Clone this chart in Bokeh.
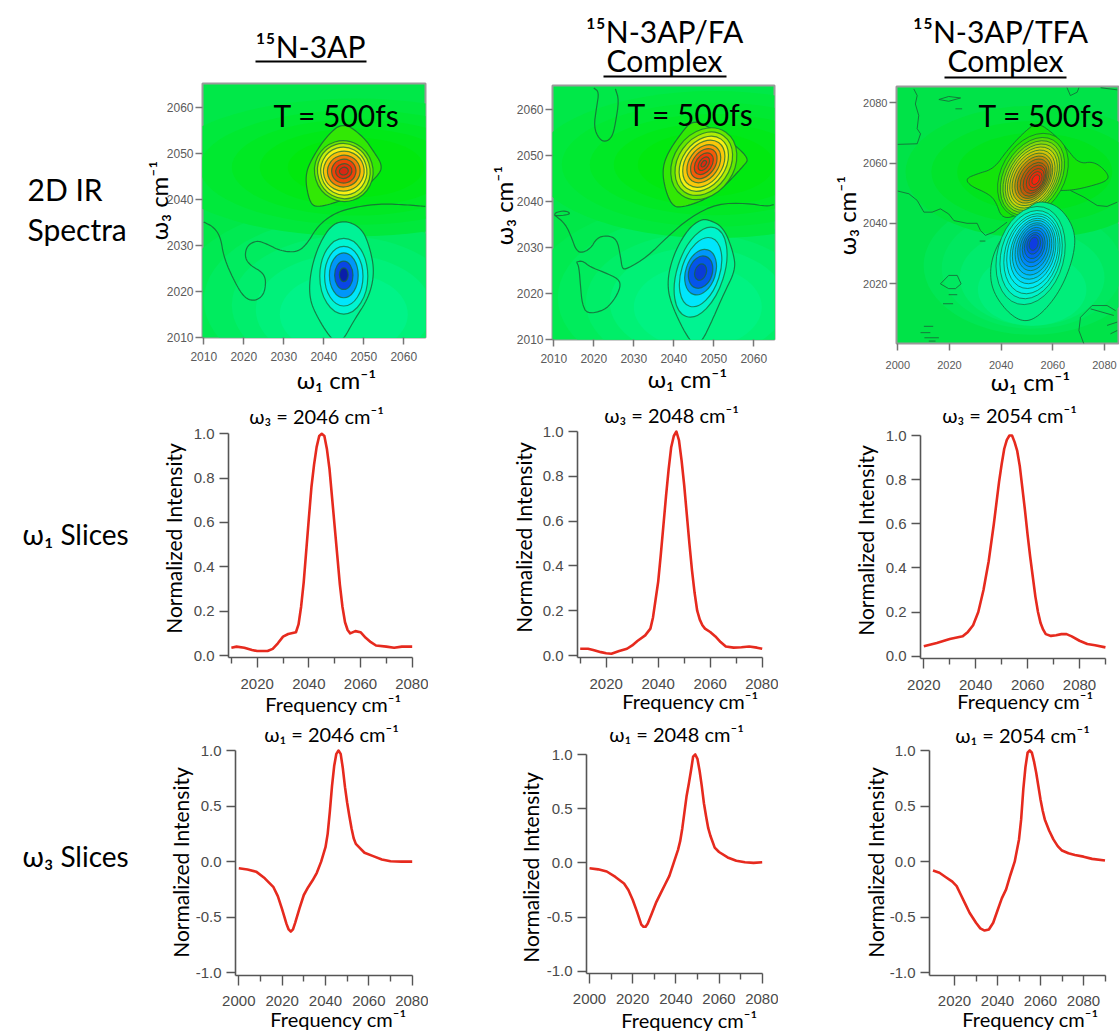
from bokeh.plotting import figure
from bokeh.models import FixedTicker, Range1d, NumeralTickFormatter
from bokeh.core.properties import value
from bokeh.embed import file_html
from bokeh.resources import INLINE
from math import pi

# ------------------------------------------------------------ omega-1 slices
s1a_x = [2010,2012,2015,2018,2020,2024,2026,2028,2030,2032,2035,2036,2037,2038,2040,2041,2042,2043,2044,2045,2046,2047,2048,2049,2050,2051,2052,2053,2054,2055,2056,2058,2060,2062,2064,2066,2070,2073,2076,2080]
s1a_y = [.035,.04,.035,.025,.02,.02,.03,.055,.085,.097,.105,.14,.22,.33,.62,.76,.86,.94,.99,1,.99,.93,.84,.71,.58,.45,.32,.22,.15,.115,.1,.11,.105,.08,.06,.045,.04,.035,.04,.04]
s1b_x = [2010,2013,2015,2018,2020,2022,2025,2028,2030,2032,2035,2037,2038,2039,2040,2041,2042,2043,2044,2045,2046,2047,2048,2049,2050,2051,2052,2053,2054,2055,2056,2057,2058,2060,2062,2064,2066,2069,2072,2075,2078,2080]
s1b_y = [.03,.03,.025,.015,.01,.008,.02,.03,.045,.065,.09,.12,.17,.25,.33,.45,.58,.71,.83,.93,.98,1,.96,.87,.76,.63,.5,.38,.28,.2,.16,.135,.12,.105,.085,.06,.04,.035,.037,.04,.035,.03]
s1c_x = [2020,2025,2030,2035,2037,2039,2041,2043,2045,2047,2049,2050,2051,2052,2053,2054,2055,2056,2057,2058,2059,2060,2061,2062,2063,2064,2065,2066,2067,2069,2071,2073,2075,2077,2080,2083,2086,2090]
s1c_y = [.045,.06,.078,.09,.11,.14,.2,.3,.43,.6,.79,.87,.94,.98,1,1,.97,.93,.86,.76,.66,.55,.45,.36,.27,.2,.15,.12,.1,.092,.095,.1,.1,.09,.07,.055,.05,.04]

# ------------------------------------------------------------ omega-3 slices
s3a_x = [2000,2004,2008,2012,2016,2018,2020,2022,2023,2024,2025,2026,2028,2030,2032,2034,2036,2038,2040,2041,2042,2043,2044,2045,2046,2047,2048,2049,2050,2051,2052,2053,2054,2056,2058,2062,2066,2070,2075,2080]
s3a_y = [-.06,-.07,-.09,-.15,-.23,-.31,-.43,-.56,-.61,-.63,-.61,-.55,-.42,-.3,-.23,-.17,-.1,0,.13,.25,.45,.68,.86,.97,1,.97,.84,.67,.53,.41,.3,.21,.16,.12,.08,.05,.02,.003,0,0]
s3b_x = [2000,2004,2008,2012,2016,2018,2020,2022,2024,2025,2026,2027,2029,2031,2033,2035,2037,2039,2041,2042,2043,2044,2045,2046,2047,2048,2049,2050,2051,2052,2053,2054,2055,2056,2058,2060,2064,2068,2072,2076,2080]
s3b_y = [-.05,-.06,-.08,-.13,-.19,-.25,-.34,-.45,-.57,-.59,-.59,-.56,-.46,-.36,-.28,-.2,-.12,0,.12,.2,.32,.47,.62,.73,.85,.98,1,.96,.85,.71,.55,.43,.32,.25,.14,.1,.05,.02,.005,0,.005]
s3c_x = [2010,2013,2016,2019,2021,2023,2025,2027,2030,2032,2034,2036,2038,2040,2042,2044,2046,2048,2050,2051,2052,2053,2054,2055,2056,2057,2058,2059,2060,2061,2062,2064,2066,2068,2070,2073,2076,2080,2084,2090]
s3c_y = [-.08,-.1,-.14,-.18,-.22,-.3,-.38,-.46,-.55,-.6,-.62,-.61,-.55,-.44,-.33,-.25,-.12,0,.2,.38,.65,.85,.98,1,.98,.9,.8,.68,.56,.46,.38,.28,.2,.14,.1,.075,.06,.045,.025,.01]

# ------------------------------------------------------------ 2D spectrum, 15N-3AP
h1_bg_x = [2045,2045,2045,2045,2045,2048,2048,2048,2048,2048]
h1_bg_y = [2018,2018,2017,2016,2015,2047,2047,2047,2047,2047]
h1_bg_w = [84,70,56,44,32,96,78,62,48,34]
h1_bg_h = [42,36,30,24,18,30,25,21,17,13]
h1_bg_c = [(0,234,82),(0,236,95),(0,238,108),(0,241,122),(0,243,136),(0,233,60),(0,233,48),(0,233,36),(0,233,24),(0,233,14)]
h1_pos_x = [2045,2050,2052.3,2054.8,2053.3,2048.3,2043.3,2037.9,2036.3,2035.3,2036.7,2040.8]
h1_pos_y = [2056.9,2053.6,2050.7,2047.3,2044.9,2041.3,2039.4,2038.2,2039.8,2044.9,2048.5,2054]
h1_neg_x = [2045.8,2049.6,2051.5,2052.7,2051.3,2047.5,2044.6,2042.3,2038.3,2036.3,2036.7,2038.8,2042.1]
h1_neg_y = [2035.4,2033.6,2029.6,2024.2,2018.7,2013.6,2009.0,2009.0,2014.4,2018.7,2024.5,2030.3,2034.7]
h1_zero_x = [[2010,2012.5,2014.2,2015,2017.5,2020,2022.5,2025,2025.6,2024.6,2021.7,2020.2,2020.8,2023.3,2025.8,2029.2,2033.3,2035.8,2038.3,2041.7,2045.8,2053.3,2060,2065.4]]
h1_zero_y = [[2035.1,2034,2031.8,2027.4,2022.4,2018.7,2017.8,2019.1,2022.4,2024.2,2025.6,2027.4,2030,2031.1,2030.3,2028.8,2028.5,2030.3,2034,2036.5,2038,2039.1,2038.9,2038.5]]
h1_pr_x = [2045,2045,2045,2045,2045,2045,2045,2045]
h1_pr_y = [2046.2,2046.2,2046.2,2046.2,2046.2,2046.2,2046.2,2046.2]
h1_pr_w = [14.6,13.1,11.5,10.2,8.2,6.1,4.1,2.25]
h1_pr_h = [13.3,12.1,10.5,8.7,6.9,5.2,3.2,1.67]
h1_pr_a = [0.3,0.3,0.3,0.3,0.3,0.3,0.3,0.3]
h1_pr_c = [(110,232,0),(195,238,10),(250,240,20),(250,190,10),(245,120,10),(238,65,10),(228,45,12),(215,40,20)]
h1_nr_x = [2045,2045,2045,2045,2045]
h1_nr_y = [2023.3,2023.3,2023.5,2023.5,2023.6]
h1_nr_w = [12,9.6,7.2,4.6,2.2]
h1_nr_h = [16.5,13,9.8,6.2,3]
h1_nr_a = [0,0,0,0,0]
h1_nr_c = [(0,245,210),(0,230,252),(0,150,250),(10,70,230),(10,30,170)]

# ------------------------------------------------------------ 2D spectrum, 15N-3AP/FA
h2_bg_x = [2046,2046,2046,2046,2046,2050,2050,2050,2049,2048]
h2_bg_y = [2019,2019,2018,2018,2017,2048,2048,2048,2048,2048]
h2_bg_w = [84,70,56,44,32,90,76,62,48,34]
h2_bg_h = [42,36,30,24,18,32,27,22,18,14]
h2_bg_c = [(0,234,80),(0,236,92),(0,238,104),(0,241,118),(0,243,130),(0,233,60),(0,233,50),(0,233,38),(0,233,26),(0,233,16)]
h2_pos_x = [2045,2050.8,2055,2058.8,2057.5,2052.5,2047.5,2041.7,2039.6,2037.9,2037.1,2038.3,2041.7]
h2_pos_y = [2058,2055.1,2052.5,2049.3,2047.8,2043.1,2040.2,2038.6,2039.1,2042.4,2046.7,2050.3,2054.7]
h2_neg_x = [2048.3,2052.5,2055,2055.4,2052.5,2049.2,2046.7,2044.2,2039.2,2038.3,2040,2043.3,2046.2]
h2_neg_y = [2036.2,2034.4,2028.6,2025,2019.9,2013.3,2009.0,2009.0,2017.7,2022.8,2028.6,2033.7,2035.8]
h2_zero_x = [[2010.4,2012.9,2014.6,2015.4,2016.7,2019.2,2020.8,2023.3,2025.8,2026.7,2027.1,2028.3,2033.3,2038.3,2044.2,2050.8,2058.3,2063.3,2065],
             [2010.2,2010.4,2012.9,2014.3,2012.1,2010.2],
             [2015.7,2017.1,2019.2,2022.5,2026.3,2026.7,2025,2022.5,2018.3,2017.1,2016.7,2016.3,2015.7],
             [2020,2021.3,2020.7,2020,2021.3,2022.9,2024.6,2025.4,2026.3,2025.4]]
h2_zero_y = [[2036.9,2035.1,2031.8,2029.7,2028.7,2029.7,2032.1,2032.6,2031.8,2027.9,2025.3,2025.3,2027.9,2032.2,2036.6,2039.5,2039.6,2038.9,2039.3],
             [2036.9,2037.6,2038,2037.3,2036.9,2036.9],
             [2026.8,2027.1,2025.7,2024.6,2023.1,2021.3,2018.4,2016.2,2015.5,2017.7,2021.3,2025.7,2026.8],
             [2064.7,2063.8,2060.5,2056.2,2053.6,2052.9,2054,2056.9,2062,2064.5]]
h2_pr_x = [2047.5]*9
h2_pr_y = [2048.2]*9
h2_pr_w = [19.2,17.1,15,12.9,10.4,8.3,6,3.8,1.8]
h2_pr_h = [13.1,11.2,9.4,8,6.4,4.9,3.5,2,.9]
h2_pr_a = [.96]*9
h2_pr_c = [(100,232,0),(175,236,5),(245,240,20),(250,200,10),(250,150,10),(245,90,10),(240,55,10),(234,45,12),(222,40,18)]
h2_nr_x = [2046.7]*5
h2_nr_y = [2024.6]*5
h2_nr_w = [23.3,17.9,11.7,8.3,4.2]
h2_nr_h = [10.2,8.3,6.5,5.1,2.5]
h2_nr_a = [1.26]*5
h2_nr_c = [(0,244,205),(0,230,252),(0,150,250),(5,85,235),(10,60,215)]

# ------------------------------------------------------------ 2D spectrum, 15N-3AP/TFA
h3_bg_x = [2052,2052,2052,2052,2053,2053,2053]
h3_bg_y = [2026,2025,2022,2018,2057,2057,2057]
h3_bg_w = [84,70,56,42,100,80,60]
h3_bg_h = [46,40,32,24,44,34,26]
h3_bg_c = [(0,230,85),(0,232,95),(0,235,108),(0,238,122),(0,228,58),(0,228,44),(0,228,30)]
h3_pos_x = [2026.2,2030.7,2037.2,2042.3,2048.8,2053.9,2060.4,2064.9,2070.1,2075.9,2081,2081.7,2073.3,2066.8,2060.4,2053.9,2047.5,2040.4,2037.8,2034.6,2028.1]
h3_pos_y = [2054.8,2056.4,2058.1,2064.2,2070.2,2073.6,2069.7,2065.3,2059.7,2060.6,2057,2054.2,2052,2050.9,2050.9,2048.7,2043.1,2041.2,2047.6,2050,2052.4]
h3_neg_x = [2055.2,2063,2068.8,2068.1,2063,2055.2,2048.8,2042.3,2036.5,2035.6,2038.5,2046.2,2050.7]
h3_neg_y = [2047.6,2045.4,2037.6,2028.8,2017.7,2009.4,2007,2010.5,2017.7,2025.4,2033.2,2042,2045.4]
h3_zero_x = [[2000,2004.3,2007.5,2010.1,2013.3,2016.5,2019.7,2021.7,2026.8,2030.7,2032,2033.9,2037.2,2042.3],
             [2066.8,2072,2077.2,2081,2084.9],
             [2006.2,2007.5,2006.8,2008.1,2007.5,2008.8,2007.5,2000],
             [2015.9,2019.7,2024.3,2019.7,2015.9],
             [2022.3,2024.9],
             [2016.5,2019.7,2023,2024.5,2022.3,2019.7,2016.5],
             [2019.7,2023],[2017.5,2021.4],[2010.1,2013.7],[2008.8,2012.6],[2010.3,2015.9],[2012,2014.6],
             [2065.5,2066.8,2069.4,2070.1],[2078.5,2084.9],
             [2072,2070.1,2070.7,2075.2,2081,2084.3],
             [2074.6,2083.6],[2081,2084.9],[2082.3,2084.9],[2031.7,2033.9]]
h3_zero_y = [[2050.7,2049.8,2047.6,2043.7,2043.7,2044.8,2043.1,2040.9,2040,2040,2037.6,2036,2037.1,2040.4],
             [2050.9,2048.7,2045.9,2045.6,2047],
             [2084.6,2082.4,2079.6,2075.8,2071.4,2069.7,2066.4,2066.2],
             [2081.1,2080.5,2081.6,2082.1,2081.1],
             [2078,2078],
             [2019.9,2022.7,2022.7,2019.9,2018.3,2018.3,2019.9],
             [2016.3,2016.3],[2013.3,2013.3],[2005.8,2005.8],[2003.7,2003.7],[2002,2002],[2000.9,2000.9],
             [2085,2082.4,2083.5,2085],[2085,2084.3],
             [2000,2004.4,2008.8,2012.7,2012.7,2011],
             [2011.6,2009.4],[2006.1,2007.2],[2003.3,2004.4],[2034.1,2034.1]]
h3_pr_x = [2052.3,2052.1,2052.1,2052.1,2052.1,2052.1,2052.1,2052.3,2052.4,2052.6,2052.9,2053.2,2053.3,2053.4]
h3_pr_y = [2055.9,2055.6,2055.5,2055.3,2055.2,2055.1,2055,2054.9,2054.8,2054.6,2054.6,2054.5,2054.5,2054.5]
h3_pr_w = [34.8,32.3,29.9,27.7,25.5,23.2,20.9,18.7,16.5,14.2,11.9,9.3,6.7,4.1]
h3_pr_h = [21,18.8,17.1,15.7,14.4,13.1,11.7,10.4,9.1,7.7,6.4,5.1,3.8,2.2]
h3_pr_a = [1.05]*14
h3_pr_c = [(40,225,5),(85,222,5),(130,218,10),(170,215,10),(200,212,10),(210,195,10),(205,170,10),(200,140,10),(190,110,10),(190,90,10),(195,70,10),(215,55,10),(235,40,10),(245,35,15)]
h3_nr_x = [2051.4,2051.6,2051.9,2052.1,2052.3,2052.4,2052.5,2052.6,2052.6,2052.6,2052.6,2052.6,2052.6]
h3_nr_y = [2029.3,2029.6,2029.9,2030.4,2030.8,2031.2,2031.5,2031.9,2032.1,2032.4,2032.6,2033,2033.2]
h3_nr_w = [38.7,34.8,31.6,28.6,25.8,23.2,20.6,18.1,15.5,12.9,10.3,7.7,5.2]
h3_nr_h = [22.1,19.9,17.9,16.4,14.6,13.3,11.7,10.2,8.8,7.3,6,4.4,2.9]
h3_nr_a = [1.31]*13
h3_nr_c = [(0,240,170),(0,242,205),(0,240,230),(0,234,247),(0,215,250),(0,195,250),(0,175,250),(0,155,250),(0,135,250),(0,115,245),(5,95,240),(10,75,235),(15,60,225)]

# ------------------------------------------------------------ all text of the page
TXT = [
 ("¹⁵N-3AP", 310, 47, 30, 0), ("¹⁵N-3AP/FA", 664, 32, 30, 0), ("Complex", 664, 61, 30, 0),
 ("¹⁵N-3AP/TFA", 1000, 32, 30, 0), ("Complex", 1005, 61, 30, 0),
 ("T = 500fs", 336, 116, 30, 0), ("T = 500fs", 690, 115, 30, 0), ("T = 500fs", 1041, 116, 30, 0),
 ("ω₁ cm⁻¹", 336, 381, 24, 0), ("ω₁ cm⁻¹", 687, 380, 24, 0), ("ω₁ cm⁻¹", 1030, 383, 24, 0),
 ("ω₃ cm⁻¹", 160, 200, 24, 1), ("ω₃ cm⁻¹", 505, 205, 24, 1), ("ω₃ cm⁻¹", 848, 215, 24, 1),
 ("ω₃ = 2046 cm⁻¹", 316, 417, 20, 0), ("ω₃ = 2048 cm⁻¹", 671, 416, 20, 0), ("ω₃ = 2054 cm⁻¹", 1009, 416, 20, 0),
 ("ω₁ = 2046 cm⁻¹", 331, 735, 20, 0), ("ω₁ = 2048 cm⁻¹", 676, 735, 20, 0), ("ω₁ = 2054 cm⁻¹", 1022, 736, 20, 0),
 ("Normalized Intensity", 175, 538, 21, 1), ("Normalized Intensity", 525, 537, 21, 1), ("Normalized Intensity", 867, 540, 21, 1),
 ("Normalized Intensity", 182, 862, 21, 1), ("Normalized Intensity", 532, 867, 21, 1), ("Normalized Intensity", 877, 862, 21, 1),
 ("Frequency cm⁻¹", 333, 705, 20, 0), ("Frequency cm⁻¹", 690, 702, 20, 0), ("Frequency cm⁻¹", 1025, 702, 20, 0),
 ("Frequency cm⁻¹", 338, 1020, 20, 0), ("Frequency cm⁻¹", 689, 1021, 20, 0), ("Frequency cm⁻¹", 1030, 1020, 20, 0),
]
SIDE = [("2D IR", 27, 190, 30), ("Spectra", 27, 230, 30), ("ω₁ Slices", 22, 535, 28), ("ω₃ Slices", 22, 857, 28)]
UNDER = [(255, 366, 61), (603, 726, 76), (944, 1066, 77)]

# ------------------------------------------------------------ helpers
TEXT_FONT = "Lato"
TICK_FONT = "Liberation Sans"
CURVE = "#e62a1e"
CONTOUR = "#17693a"
PAGE_W, PAGE_H = 1119, 1032
TEXT_DY = -2
TEXT_DX_ROT = -2


def hexc(c):
    return "#%02x%02x%02x" % tuple(c)


def round_path(xs, ys, closed=False, n=3):
    """Draw a contour outline with rounded corners (corner cutting), as a smoothed path."""
    for _ in range(n):
        pts = list(zip(xs, ys))
        if closed:
            pairs = list(zip(pts, pts[1:] + pts[:1]))
        else:
            pairs = list(zip(pts[:-1], pts[1:]))
        nx, ny = ([xs[0]], [ys[0]]) if not closed else ([], [])
        for (a, b), (c, d) in pairs:
            nx += [.75 * a + .25 * c, .25 * a + .75 * c]
            ny += [.75 * b + .25 * d, .25 * b + .75 * d]
        if not closed:
            nx.append(xs[-1])
            ny.append(ys[-1])
        xs, ys = nx, ny
    return xs, ys


def rng(lo_px, hi_px, v0, p0, v1, p1):
    k = (v1 - v0) / (p1 - p0)
    return v0 + (lo_px - p0) * k, v0 + (hi_px - p0) * k


def cell(L, T, R, B, xa, ya):
    x0, x1 = rng(L, R, *xa)
    y0, y1 = rng(B, T, *ya)
    bl, bt, br, bb = 62, 8, min(14, PAGE_W - R), 42
    p = figure(width=R - L + bl + br, height=B - T + bt + bb,
               min_border_left=bl, min_border_right=br, min_border_top=bt, min_border_bottom=bb,
               x_range=Range1d(x0, x1), y_range=Range1d(y0, y1),
               toolbar_location=None, output_backend="svg",
               styles={"position": "absolute", "left": f"{L - bl}px", "top": f"{T - bt}px"})
    p.grid.visible = False
    return p


def heat(L, T, R, B, xa, ya, xticks, yticks, base, bg, pos, neg, zx, zy, pr, nr, lw, tick_px, xsoff, nsmooth):
    p = cell(L, T, R, B, xa, ya)
    for ax, t in ((p.xaxis[0], xticks), (p.yaxis[0], yticks)):
        ax.ticker = FixedTicker(ticks=t)
        ax.axis_line_color = None
        ax.major_tick_in = 0
        ax.major_tick_out = 7
        ax.minor_tick_line_color = None
        ax.major_tick_line_color = "#777777"
        ax.major_tick_line_width = 1.5
        ax.major_label_text_font = TICK_FONT
        ax.major_label_text_font_size = tick_px
        ax.major_label_text_color = "#5a5a5a"
        ax.major_label_standoff = 2
    p.xaxis[0].major_label_standoff = xsoff
    p.outline_line_color = "#9a9a9a"
    p.outline_line_width = 2
    p.background_fill_color = hexc(base)
    p.ellipse(bg[0], bg[1], width=bg[2], height=bg[3], fill_color=[hexc(c) for c in bg[4]], line_color=None)
    px, py = round_path(pos[0], pos[1], closed=True)
    p.patch(px, py, fill_color=hexc(pos[2]), line_color=CONTOUR, line_width=lw, line_alpha=.85)
    p.ellipse(pr[0], pr[1], width=pr[2], height=pr[3], angle=pr[4], fill_color=[hexc(c) for c in pr[5]],
              line_color=CONTOUR, line_width=lw, line_alpha=.75)
    nx, ny = round_path(neg[0], neg[1], closed=True)
    p.patch(nx, ny, fill_color=hexc(neg[2]), line_color=CONTOUR, line_width=lw, line_alpha=.85)
    p.ellipse(nr[0], nr[1], width=nr[2], height=nr[3], angle=nr[4], fill_color=[hexc(c) for c in nr[5]],
              line_color=CONTOUR, line_width=lw, line_alpha=.75)
    lines = [round_path(a, b, n=nsmooth) for a, b in zip(zx, zy)]
    p.multi_line([l[0] for l in lines], [l[1] for l in lines], line_color=CONTOUR, line_width=lw, line_alpha=.85)
    return p


def slice_plot(L, T, R, B, xa, ya, xs, ys, xticks, xminor, yticks, xhi, ysoff, xsoff):
    p = cell(L, T, R, B, xa, ya)
    p.outline_line_color = None
    p.line(xs, ys, line_color=CURVE, line_width=2.6, line_join="round")
    xax, yax = p.xaxis[0], p.yaxis[0]
    xax.ticker = FixedTicker(ticks=xticks, minor_ticks=xminor)
    yax.ticker = FixedTicker(ticks=yticks)
    yax.formatter = NumeralTickFormatter(format="0.0")
    xax.bounds = (p.x_range.start, xhi)
    yax.bounds = (p.y_range.start, 1.0)
    for ax in (xax, yax):
        ax.axis_line_color = "#555555"
        ax.axis_line_width = 1.6
        ax.major_tick_line_color = "#555555"
        ax.major_tick_line_width = 1.4
        ax.minor_tick_line_color = "#555555"
        ax.minor_tick_line_width = 1.4
        ax.major_tick_in = 0
        ax.major_tick_out = 10
        ax.minor_tick_in = 0
        ax.minor_tick_out = 6
        ax.major_label_text_font = TICK_FONT
        ax.major_label_text_font_size = "15px"
        ax.major_label_text_color = "#4a4a4a"
    yax.major_tick_out = 9
    yax.minor_tick_line_color = None
    yax.major_label_standoff = ysoff
    xax.major_label_standoff = xsoff
    return p


T10 = [2010, 2020, 2030, 2040, 2050, 2060]
T20 = [2000, 2020, 2040, 2060, 2080]
hm1 = heat(202, 83, 425, 337, (2010, 203.3, 2060, 403.3), (2010, 336.7, 2060, 107.3), T10, T10,
           (0, 232, 72), (h1_bg_x, h1_bg_y, h1_bg_w, h1_bg_h, h1_bg_c),
           (h1_pos_x, h1_pos_y, (50, 232, 5)), (h1_neg_x, h1_neg_y, (0, 243, 150)),
           h1_zero_x, h1_zero_y,
           (h1_pr_x, h1_pr_y, h1_pr_w, h1_pr_h, h1_pr_a, h1_pr_c),
           (h1_nr_x, h1_nr_y, h1_nr_w, h1_nr_h, h1_nr_a, h1_nr_c), 1.2, "12px", 7, 3)
hm2 = heat(552, 85, 774, 339, (2010, 553.3, 2060, 753.3), (2010, 338.7, 2060, 109), T10, T10,
           (0, 232, 72), (h2_bg_x, h2_bg_y, h2_bg_w, h2_bg_h, h2_bg_c),
           (h2_pos_x, h2_pos_y, (50, 232, 5)), (h2_neg_x, h2_neg_y, (0, 243, 145)),
           h2_zero_x, h2_zero_y,
           (h2_pr_x, h2_pr_y, h2_pr_w, h2_pr_h, h2_pr_a, h2_pr_c),
           (h2_nr_x, h2_nr_y, h2_nr_w, h2_nr_h, h2_nr_a, h2_nr_c), 1.2, "12px", 7, 2)
hm3 = heat(896, 86, 1118, 343, (2000, 897.3, 2080, 1104), (2000, 343.3, 2080, 102.3), T20, T20,
           (0, 227, 72), (h3_bg_x, h3_bg_y, h3_bg_w, h3_bg_h, h3_bg_c),
           (h3_pos_x, h3_pos_y, (18, 228, 10)), (h3_neg_x, h3_neg_y, (0, 238, 135)),
           h3_zero_x, h3_zero_y,
           (h3_pr_x, h3_pr_y, h3_pr_w, h3_pr_h, h3_pr_a, h3_pr_c),
           (h3_nr_x, h3_nr_y, h3_nr_w, h3_nr_h, h3_nr_a, h3_nr_c), 1.0, "11px", 10, 0)

XT = [2020, 2040, 2060, 2080]
XM = [2010, 2030, 2050, 2070]
XM3 = [2030, 2050, 2070, 2090]
YT2 = [0, .2, .4, .6, .8, 1.0]
YT3 = [-1.0, -.5, 0, .5, 1.0]
XT3 = [2000, 2020, 2040, 2060, 2080]

r2a = slice_plot(228, 430, 414, 657, (2020, 256.7, 2080, 411.7), (0, 655, 1, 433.3), s1a_x, s1a_y, XT, XM, YT2, 2080, 5, 11)
r2b = slice_plot(577, 428, 764, 657, (2020, 605.7, 2080, 761.7), (0, 655, 1, 431), s1b_x, s1b_y, XT, XM, YT2, 2080, 5, 11)
r2c = slice_plot(920, 432, 1107, 658, (2020, 923.3, 2080, 1079), (0, 655.7, 1, 435), s1c_x, s1c_y, XT, XM3, YT2, 2090, 5, 11)
r3a = slice_plot(235, 747, 414, 975, (2000, 238.3, 2080, 411.7), (-1, 972.3, 1, 750), s3a_x, s3a_y, XT3, XM, YT3, 2080, 5, 10)
r3b = slice_plot(586, 751, 764, 973, (2000, 589, 2080, 761.7), (-1, 970.7, 1, 754), s3b_x, s3b_y, XT3, XM, YT3, 2080, 5, 10)
r3c = slice_plot(929, 747, 1107, 975, (2020, 954, 2080, 1083), (-1, 972.3, 1, 750), s3c_x, s3c_y, XT, XM3, YT3, 2090, 5, 10)

# page-sized transparent layer holding the texts, in page pixels
txt = figure(width=PAGE_W, height=PAGE_H, x_range=Range1d(0, PAGE_W), y_range=Range1d(PAGE_H, 0),
             x_axis_location=None, y_axis_location=None, min_border=0, toolbar_location=None,
             output_backend="svg", background_fill_alpha=0, border_fill_alpha=0, outline_line_color=None,
             styles={"position": "absolute", "left": "0px", "top": "0px", "pointer-events": "none"})
txt.grid.visible = False
for a in (0, 1):
    rows = [t for t in TXT if t[4] == a]
    txt.text([t[1] + a * TEXT_DX_ROT for t in rows], [t[2] + (1 - a) * TEXT_DY for t in rows], text=[t[0] for t in rows],
             text_font_size=[f"{t[3]}px" for t in rows], text_font=value(TEXT_FONT),
             text_align="center", text_baseline="middle", text_color="#000000", angle=a * pi / 2)
txt.text([s[1] for s in SIDE], [s[2] + TEXT_DY for s in SIDE], text=[s[0] for s in SIDE],
         text_font_size=[f"{s[3]}px" for s in SIDE], text_font=value(TEXT_FONT),
         text_align="left", text_baseline="middle", text_color="#000000")
txt.segment([u[0] for u in UNDER], [u[2] for u in UNDER], [u[1] for u in UNDER], [u[2] for u in UNDER],
            line_color="#000000", line_width=2)

roots = [hm1, hm2, hm3, r2a, r2b, r2c, r3a, r3b, r3c, txt]
open("out.html", "w").write(file_html(roots, INLINE))
